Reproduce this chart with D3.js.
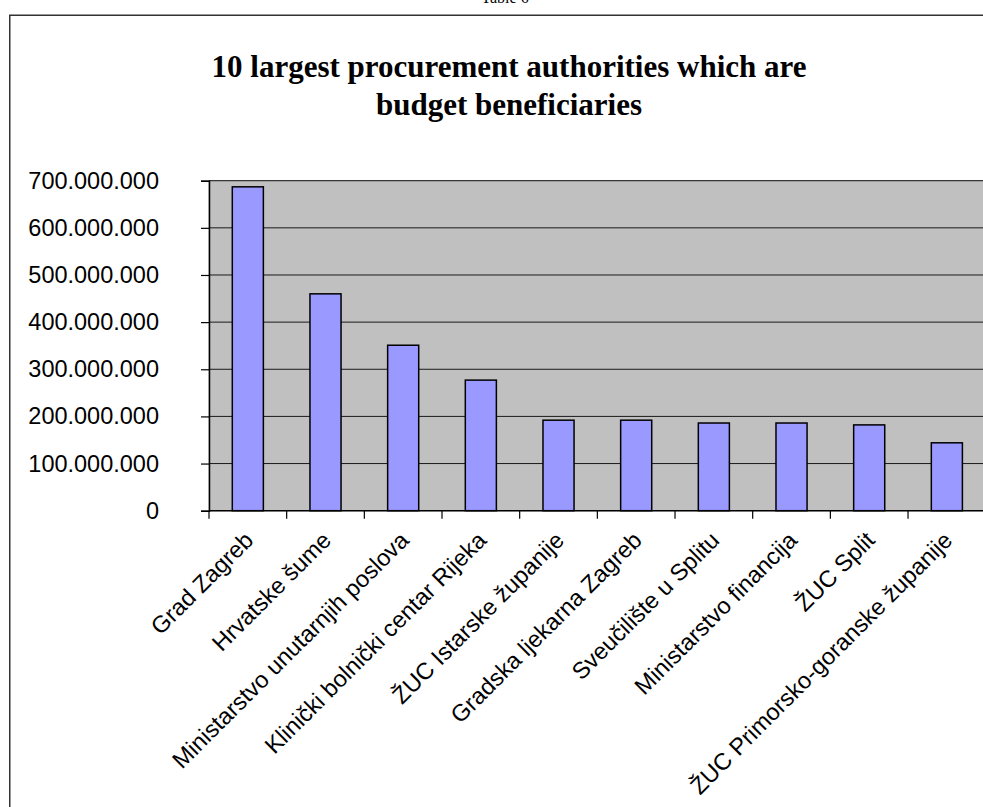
<!DOCTYPE html>
<html>
<head>
<meta charset="utf-8">
<script src="https://cdn.jsdelivr.net/npm/d3@7"></script>
<style>
  html, body { margin: 0; padding: 0; background: #fff; }
  svg { display: block; }
</style>
</head>
<body>
<svg id="chart" width="983" height="807"></svg>
<script>
const categories = [
  "Grad Zagreb",
  "Hrvatske šume",
  "Ministarstvo unutarnjih poslova",
  "Klinički bolnički centar Rijeka",
  "ŽUC Istarske županije",
  "Gradska ljekarna Zagreb",
  "Sveučilište u Splitu",
  "Ministarstvo financija",
  "ŽUC Split",
  "ŽUC Primorsko-goranske županije"
];
const values = [687000000, 460000000, 351000000, 277000000, 192000000, 192000000, 186000000, 186000000, 182000000, 144000000];
const yTicks = [0, 100000000, 200000000, 300000000, 400000000, 500000000, 600000000, 700000000];
const titleLines = ["10 largest procurement authorities which are", "budget beneficiaries"];
const caption = "Table 6";

const svg = d3.select("#chart");
const plot = { left: 209, right: 985.7, top: 180.7, bottom: 510.7 };

const x = d3.scaleBand().domain(categories).range([plot.left, plot.right]).paddingInner(0.6).paddingOuter(0.3);
const y = d3.scaleLinear().domain([0, 700000000]).range([plot.bottom, plot.top]);

const locale = d3.formatLocale({ decimal: ",", thousands: ".", grouping: [3], currency: ["", ""] });
const fmt = locale.format(",d");

// caption cut at top
svg.append("text").attr("x", 505).attr("y", 3).attr("text-anchor", "middle")
  .attr("font-family", "Liberation Serif, Times New Roman, serif").attr("font-size", 16)
  .attr("fill", "#000").text(caption);

// outer chart border
svg.append("rect").attr("x", 9.75).attr("y", 15.25).attr("width", 1000).attr("height", 1000)
  .attr("fill", "none").attr("stroke", "#333").attr("stroke-width", 1.5);

// title
const title = svg.append("text").attr("text-anchor", "middle")
  .attr("font-family", "Liberation Serif, Times New Roman, serif").attr("font-weight", "bold")
  .attr("font-size", 31).attr("fill", "#000");
titleLines.forEach((t, i) => {
  title.append("tspan").attr("x", 509).attr("y", 77 + i * 38).text(t);
});

// plot background
svg.append("rect").attr("x", plot.left).attr("y", plot.top)
  .attr("width", plot.right - plot.left).attr("height", plot.bottom - plot.top)
  .attr("fill", "#C0C0C0").attr("stroke", "#a8a8a8").attr("stroke-width", 1);

// gridlines
svg.append("g").selectAll("line").data(yTicks.filter(d => d > 0)).join("line")
  .attr("x1", plot.left).attr("x2", plot.right)
  .attr("y1", d => y(d)).attr("y2", d => y(d))
  .attr("stroke", "#1a1a1a").attr("stroke-width", 1);

// bars
svg.append("g").selectAll("rect").data(values).join("rect")
  .attr("x", (d, i) => x(categories[i]))
  .attr("y", d => y(d))
  .attr("width", x.bandwidth())
  .attr("height", d => plot.bottom - y(d))
  .attr("fill", "#9999FF").attr("stroke", "#000").attr("stroke-width", 1.5);

// y axis
const yAxis = svg.append("g").attr("transform", `translate(${plot.left},0)`)
  .call(d3.axisLeft(y).tickValues(yTicks).tickFormat(fmt).tickSize(8).tickPadding(42));
yAxis.select(".domain").attr("stroke", "#000").attr("stroke-width", 1.5);
yAxis.selectAll(".tick line").attr("stroke", "#000").attr("stroke-width", 1.2);
yAxis.selectAll("text").attr("font-family", "Liberation Sans, Arial, sans-serif")
  .attr("font-size", 23.5).attr("fill", "#000");

// x axis line and ticks at band boundaries
const step = x.step();
const bounds = categories.map((c, i) => plot.left + i * step);
svg.append("line").attr("x1", plot.left).attr("x2", plot.right)
  .attr("y1", plot.bottom).attr("y2", plot.bottom).attr("stroke", "#000").attr("stroke-width", 1.5);
svg.append("g").selectAll("line").data(bounds).join("line")
  .attr("x1", d => d).attr("x2", d => d)
  .attr("y1", plot.bottom).attr("y2", plot.bottom + 8)
  .attr("stroke", "#000").attr("stroke-width", 1.2);

// category labels
svg.append("g").selectAll("text").data(categories).join("text")
  .attr("transform", d => `translate(${x(d) + x.bandwidth() / 2 + 7},${plot.bottom + 31}) rotate(-45)`)
  .attr("text-anchor", "end")
  .attr("font-family", "Liberation Sans, Arial, sans-serif").attr("font-size", 23.5)
  .attr("fill", "#000").text(d => d);
</script>
</body>
</html>
